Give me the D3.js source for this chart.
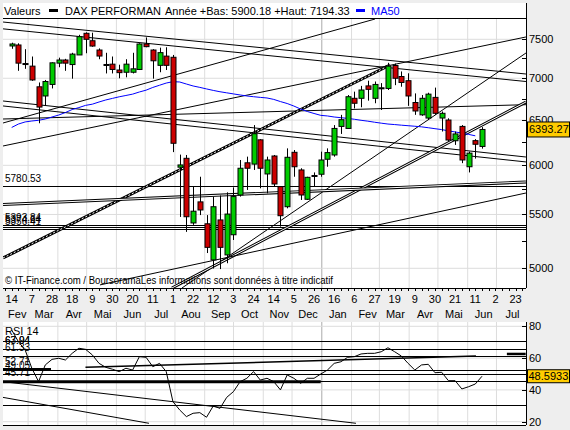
<!DOCTYPE html>
<html><head><meta charset="utf-8">
<script src="https://cdn.jsdelivr.net/npm/d3@7"></script>
<style>body{margin:0;background:#eeeeee}svg{display:block}text{font-family:"Liberation Sans",Arial,sans-serif}</style>
</head><body><svg id="c" width="570" height="430"></svg>
<script>
// ---------- DATA ----------
const firstWeek = "2011-02-14";
const opens  = [7412,7425,7185,7152,6895,6784,6924,7190,7230,7172,7295,7580,7481,7359,7173,7177,7103,7075,7075,7110,7438,7359,7162,7280,7265,5980,6075,5418,5624,5410,5075,5447,5120,5306,5693,6027,6013,6277,5909,6100,5778,5576,6140,5951,5650,5885,5906,6065,6111,6428,6405,6756,6756,6906,6756,6878,6875,7160,7022,6970,6706,6561,6524,6767,6524,6501,6267,6428,5985,6268,6204];
const highs  = [7455,7447,7370,7275,6948,6979,7200,7260,7245,7323,7560,7593,7588,7380,7323,7275,7170,7240,7323,7447,7525,7370,7390,7395,7295,6115,6111,5780,5880,5494,5675,5688,5720,5770,6057,6093,6443,6285,6093,6111,5778,6183,6165,5969,5880,5925,6147,6183,6443,6561,6795,6836,6906,6970,6960,6940,7194.33,7185,7085,7062,6815,6795,6823,6885,6600,6521,6370,6443,6147,6285,6420];
const lows   = [7375,7093,7118,6968,6464,6666,6875,7138,7093,6995,7295,7317,7402,7240,7060,7060,7000,7012,7060,7103,7395,6995,7075,7103,6142,5476,5333,5400,5494,5137,4998,4993,5045,5257,5677,5744,5951,5761,5710,5778,5383,5560,5880,5643,5643,5778,5880,5985,6093,6343,6405,6636,6650,6728,6697,6618,6856,6915,6896,6666,6561,6550,6501,6561,6370,6257,6221,6023,5925,6072,6180];
const closes = [7438,7190,7178,6979,6652,6960,7194,7230,7190,7306,7535,7500,7411,7281,7165,7110,7070,7177,7118,7438,7403,7220,7325,7162,6239,6004,5478,5532,5544,5189,5576,5189,5504,5677,5969,5969,6345,5969,6057,5805,5488,6086,5985,5693,5874,5893,6057,6137,6405,6505,6775,6697,6856,6864,6924,6883,7152,7000,6948,6784,6606,6756,6806,6579,6579,6275,6343,6057,6131,6228,6393.27];
const ma50   = [6416,6455,6479,6490,6498,6513,6536,6559,6588,6623,6646,6672,6686,6712,6736,6755,6774,6790,6806,6832,6854,6887,6914,6941,6958,6954,6929,6905,6888,6869,6851,6835,6822,6809,6796,6784,6775,6767,6760,6743,6717,6694,6664,6629,6600,6577,6555,6548,6536,6528,6520,6510,6498,6488,6476,6465,6455,6449,6442,6436,6430,6423,6413,6402,6392,6378,6365,6353,6338,6322];
const rsi14  = [77.7,70.3,65.1,53.6,45.2,55.7,59.2,59.9,58.8,63.0,66.2,65.5,62.0,56.7,54.2,53.0,51.5,53.6,52.5,60.9,60.5,54.6,56.7,51.5,32.6,27.4,23.2,25.3,25.7,22.8,29.9,28.4,35.3,38.9,45.2,47.3,51.5,46.2,47.3,45.2,40.0,49.4,47.3,44.1,47.3,47.3,50.0,52.5,56.7,57.7,60.5,60.9,62.6,63.0,63.0,64.0,66.5,64.0,61.3,56.7,52.5,55.7,56.1,50.8,51.1,45.8,45.8,40.6,42.0,43.7,48.5933];
const weekLabels  = ["14","7","28","18","9","30","20","11","1","22","12","3","24","14","5","26","16","6","27","19","9","30","21","11","2","23"];
const monthLabels = ["Fev","Mar","Avr","Mai","Jun","Jul","Aou","Sep","Oct","Nov","Dec","Jan","Fev","Mar","Avr","Mai","Jun","Jul"];
const priceTicks  = [5000,5500,6000,6500,7000,7500];
const priceMinor  = [5250,5750,6250,6750,7250];
const rsiTicks    = [20,40,60,80];
const levelValues = [5780.53,5393.84,5374.64,5356.41];
const levelLabels = ["5780.53","5393.84","5374.64","5356.41"];
// trend lines: [week1, value1, week2, value2, kind]
const trendLines = [
  [-1.29,7733,76.54,7053,"thin"],
  [-1.29,7640,76.54,6960,"thin"],
  [-1.29,6724,76.54,6089,"thin"],
  [-1.29,6665,76.54,6036,"thin"],
  [-1.29,6513,76.54,6680,"thin"],
  [-1.29,6209,76.54,7531,"thin"],
  [-1.29,6467,54.07,7774,"thin"],
  [-1.29,5092,56.30,7166,"hatched"],
  [25.35,4829,76.54,7320,"thin"],
  [23.86,4829,76.54,6712,"double"],
  [13.14,4855,76.54,5713,"thin"],
  [-1.29,5598,76.54,5826,"double"]
];
const rsiLevels   = [70.9,65.5,61.33,52.71,50.3,45.71,30.5];
const rsiLevelLabels = [["67.04",65.5],["63.94",65.5],["61.33",61.33],["52.71",52.71],["49.05",50.3],["45.71",45.71]];
const rsiTrend = [
  [-1.31,45.2,51.24,19.0,1],
  [-1.31,35.3,20.43,19.0,1],
  [10.98,54.2,69.1,61.3,1.5],
  [-1.31,53.0,5.85,53.0,2.5],
  [73.7,62.6,76.5,62.6,2.5],
  [-1.31,45.2,46.0,45.2,3]
];
const lastPrice = 6393.27, lastRsi = 48.5933;

// ---------- CHART ----------
const svg = d3.select("#c");
const L=3,R=526,T=3,B=288,RT=322,RB=425,HT=19;
const t0 = Date.parse(firstWeek+"T00:00:00Z");
const wk = i => new Date(t0 + i*7*864e5);
const x = d3.scaleUtc().domain([wk(0),wk(75)]).range([11.7,515.6]);
const y = d3.scaleLog().domain([7500,5000]).range([39.3,268.3]);
const yr = d3.scaleLinear().domain([20,80]).range([421.7,326.3]);

svg.append("rect").attr("width",570).attr("height",430).attr("fill","#eeeeee");
svg.append("rect").attr("x",L).attr("y",T).attr("width",R-L).attr("height",B-T).attr("fill","#fff");
svg.append("rect").attr("x",L).attr("y",RT).attr("width",R-L).attr("height",RB-RT).attr("fill","#fff");

const defs = svg.append("defs");
defs.append("clipPath").attr("id","cm").append("rect").attr("x",L).attr("y",HT).attr("width",R-L).attr("height",B-HT);
defs.append("clipPath").attr("id","cr").append("rect").attr("x",L).attr("y",RT).attr("width",R-L).attr("height",RB-RT);

const months = d3.utcMonth.range(new Date(Date.UTC(2011,2,1)), new Date(Date.UTC(2012,7,1)));
const gm = svg.append("g").attr("clip-path","url(#cm)");
gm.selectAll(".vg").data(months).join("line")
  .attr("x1",d=>x(d)+2).attr("x2",d=>x(d)+2).attr("y1",HT).attr("y2",B)
  .attr("stroke",d=>d.getUTCMonth()===0?"#aaaaaa":"#dddddd");
gm.selectAll(".hg").data(priceTicks).join("line")
  .attr("x1",L).attr("x2",R).attr("y1",d=>y(d)).attr("y2",d=>y(d)).attr("stroke","#dddddd");
const gr = svg.append("g").attr("clip-path","url(#cr)");
gr.selectAll(".vg").data(months).join("line")
  .attr("x1",d=>x(d)+2).attr("x2",d=>x(d)+2).attr("y1",RT).attr("y2",RB)
  .attr("stroke",d=>d.getUTCMonth()===0?"#aaaaaa":"#dddddd");
gr.selectAll(".hg").data(rsiTicks).join("line")
  .attr("x1",L).attr("x2",R).attr("y1",d=>yr(d)).attr("y2",d=>yr(d)).attr("stroke","#dddddd");

gm.selectAll(".lv").data(levelValues).join("line")
  .attr("x1",L).attr("x2",R).attr("y1",d=>Math.round(y(d))+0.5).attr("y2",d=>Math.round(y(d))+0.5)
  .attr("stroke","#000");
gm.selectAll(".lvt").data(levelValues).join("text")
  .attr("x",5).attr("y",d=>y(d)-4).attr("font-size",10).text((d,i)=>levelLabels[i]);

trendLines.forEach(([a,va,b,vb,k])=>{
  const ln = {x1:x(wk(a)),y1:y(va),x2:x(wk(b)),y2:y(vb)};
  const add=(w,c,dash)=>{const e=gm.append("line").attr("x1",ln.x1).attr("y1",ln.y1).attr("x2",ln.x2).attr("y2",ln.y2)
      .attr("stroke",c).attr("stroke-width",w); if(dash) e.attr("stroke-dasharray",dash);};
  if(k==="thin") add(1,"#000");
  else if(k==="double"){add(3,"#000");add(1,"#fff");}
  else {add(3,"#000");add(1,"#fff","2,2");}
});

gm.append("path").datum(ma50).attr("fill","none").attr("stroke","#0000ff").attr("stroke-width",1)
  .attr("d",d3.line().x((d,i)=>x(wk(i))).y(d=>y(d)));

const cg = gm.append("g");
opens.forEach((o,i)=>{
  const cx = Math.round(x(wk(i)))+0.5, c=closes[i];
  cg.append("line").attr("x1",cx).attr("x2",cx).attr("y1",y(highs[i])).attr("y2",y(lows[i])).attr("stroke","#000");
  const top=Math.min(y(o),y(c)), h=Math.max(1,Math.abs(y(o)-y(c)));
  cg.append("rect").attr("x",cx-2.5).attr("y",top).attr("width",5).attr("height",h)
    .attr("fill",c>=o?"#00cc00":"#cc0000").attr("stroke","#000").attr("stroke-width",1);
});

svg.append("line").attr("x1",L).attr("x2",R).attr("y1",18.5).attr("y2",18.5).attr("stroke","#000");
svg.append("line").attr("x1",R+0.5).attr("x2",R+0.5).attr("y1",T).attr("y2",B).attr("stroke","#000");
svg.append("line").attr("x1",L).attr("x2",R).attr("y1",B+0.5).attr("y2",B+0.5).attr("stroke","#000");
svg.append("line").attr("x1",R+0.5).attr("x2",R+0.5).attr("y1",RT).attr("y2",RB).attr("stroke","#000");
svg.append("line").attr("x1",L).attr("x2",R).attr("y1",RB+0.5).attr("y2",RB+0.5).attr("stroke","#000");

const ya = svg.append("g");
ya.selectAll(".t").data(priceTicks.concat(priceMinor)).join("line")
  .attr("x1",R-4).attr("x2",R).attr("y1",d=>Math.round(y(d))+0.5).attr("y2",d=>Math.round(y(d))+0.5).attr("stroke","#000");
ya.selectAll(".l").data(priceTicks).join("text").attr("x",529).attr("y",d=>y(d)+4).attr("font-size",11).text(d=>d);
ya.append("rect").attr("x",527.5).attr("y",y(lastPrice)-7.5).attr("width",42).attr("height",15).attr("fill","#ffcc00").attr("stroke","#000");
ya.append("text").attr("x",529).attr("y",y(lastPrice)+4).attr("font-size",11).text(lastPrice.toFixed(2));

const weeks = d3.range(-1,77);
svg.append("g").selectAll("line").data(weeks).join("line")
  .attr("x1",d=>Math.round(x(wk(d)))+0.5).attr("x2",d=>Math.round(x(wk(d)))+0.5).attr("y1",B).attr("y2",B+3).attr("stroke","#000");
svg.append("g").selectAll("text").data(weekLabels).join("text")
  .attr("x",(d,i)=>x(wk(i*3))).attr("y",303).attr("text-anchor","middle").attr("font-size",11).text(d=>d);
const monthStarts = d3.utcMonth.range(new Date(Date.UTC(2011,1,1)), new Date(Date.UTC(2012,7,1)));
svg.append("g").selectAll("text").data(monthStarts).join("text")
  .attr("x",d=>x(d)+18).attr("y",318).attr("text-anchor","middle").attr("font-size",11).text((d,i)=>monthLabels[i]);

svg.append("text").attr("x",4).attr("y",15).attr("font-size",11).text("Valeurs");
svg.append("rect").attr("x",49).attr("y",9).attr("width",9).attr("height",3).attr("fill","#000");
svg.append("text").attr("x",65).attr("y",15).attr("font-size",11).text("DAX PERFORMAN");
svg.append("text").attr("x",165).attr("y",15).attr("font-size",11).text("Année +Bas: 5900.18 +Haut: 7194.33");
svg.append("rect").attr("x",356).attr("y",9).attr("width",9).attr("height",3).attr("fill","#0000ff");
svg.append("text").attr("x",371).attr("y",15).attr("font-size",11).attr("fill","#0000ff").text("MA50");
svg.append("text").attr("x",5).attr("y",284).attr("font-size",10).attr("textLength",328).attr("lengthAdjust","spacingAndGlyphs")
  .text("© IT-Finance.com / BoursoramaLes informations sont données à titre indicatif");

gr.selectAll(".rl").data(rsiLevels).join("line")
  .attr("x1",L).attr("x2",R).attr("y1",d=>Math.round(yr(d))+0.5).attr("y2",d=>Math.round(yr(d))+0.5).attr("stroke","#000");
rsiTrend.forEach(([a,va,b,vb,w])=>{
  gr.append("line").attr("x1",x(wk(a))).attr("y1",yr(va)).attr("x2",x(wk(b))).attr("y2",yr(vb)).attr("stroke","#000").attr("stroke-width",w);
});
gr.selectAll(".rlt").data(rsiLevelLabels).join("text").attr("x",5).attr("y",d=>yr(d[1])-5).attr("font-size",10).text(d=>d[0]);
gr.append("path").datum(rsi14).attr("fill","none").attr("stroke","#000")
  .attr("d",d3.line().x((d,i)=>x(wk(i))).y(d=>yr(d)));
svg.append("text").attr("x",5).attr("y",335).attr("font-size",11).text("RSI 14");
const ra = svg.append("g");
ra.selectAll("line").data(rsiTicks).join("line").attr("x1",R-4).attr("x2",R).attr("y1",d=>Math.round(yr(d))+0.5).attr("y2",d=>Math.round(yr(d))+0.5).attr("stroke","#000");
ra.selectAll("text").data(rsiTicks).join("text").attr("x",529).attr("y",d=>yr(d)+4).attr("font-size",11).text(d=>d);
ra.append("rect").attr("x",527.5).attr("y",yr(lastRsi)-6.5).attr("width",42).attr("height",13).attr("fill","#ffcc00").attr("stroke","#000");
ra.append("text").attr("x",528.5).attr("y",yr(lastRsi)+4).attr("font-size",11).text(lastRsi.toFixed(4));
</script></body></html>
